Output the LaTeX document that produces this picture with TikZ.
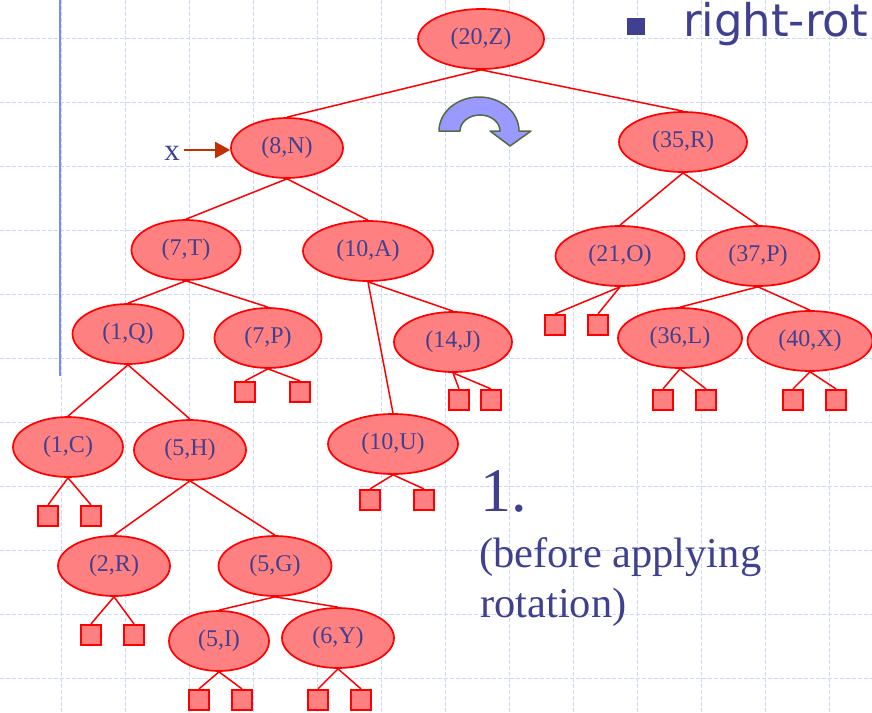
\documentclass[tikz,border=0pt]{standalone}
\usepackage{fontspec}
\setmainfont{Liberation Serif}
\newfontfamily\sansdv{DejaVu Sans}
\usetikzlibrary{shapes.geometric,arrows.meta}
\definecolor{nodefill}{RGB}{255,128,128}
\definecolor{nodeline}{RGB}{255,0,0}
\definecolor{txtblue}{RGB}{64,64,144}
\definecolor{gridblue}{RGB}{205,215,248}
\definecolor{barblue}{RGB}{120,138,255}
\definecolor{xarrow}{RGB}{192,48,0}
\definecolor{rotfill}{RGB}{153,153,255}
\definecolor{rotline}{RGB}{85,107,68}
\begin{document}
\begin{tikzpicture}[x=1pt,y=-1pt,
  avl/.style={ellipse, draw=nodeline, fill=nodefill, line width=1.7pt, minimum height=60pt, inner sep=0pt, text=txtblue, font=\fontsize{24}{27}\selectfont},
  sq/.style={rectangle, draw=nodeline, fill=nodefill, line width=1.7pt, minimum size=20.5pt, inner sep=0pt},
  link/.style={draw=nodeline, line width=1.5pt},
  gridline/.style={draw=gridblue, line width=0.9pt, dash pattern=on 4pt off 2pt},
  bigtext/.style={anchor=base west, inner sep=0pt, text=txtblue}
]
\useasboundingbox (0,0) rectangle (872,712);
\clip (0,0) rectangle (872,712);
% grid
\foreach \gx in {61,125,...,829} \draw[gridline] (\gx,0) -- (\gx,712);
\foreach \gy in {38,102,...,678} \draw[gridline] (0,\gy) -- (872,\gy);
% left bar
\draw[barblue, line width=2.4pt] (60,0) -- (60,376);

% title
\fill[txtblue] (627,18) rectangle (645,35);
\node[bigtext, font=\sansdv\fontsize{45}{45}\selectfont] (title) at (683,36) {right-rot};

% tree nodes
\node[avl, minimum width=126pt] (z20) at (481,39) {(20,Z)};
\node[avl, minimum width=112pt] (n8) at (287,148) {(8,N)};
\node[avl, minimum width=128pt] (r35) at (683,142) {(35,R)};
\node[avl, minimum width=109pt] (t7) at (186,250) {(7,T)};
\node[avl, minimum width=130pt] (a10) at (368,251) {(10,A)};
\node[avl, minimum width=129pt] (o21) at (620,256) {(21,O)};
\node[avl, minimum width=123pt] (p37) at (758,256) {(37,P)};
\node[avl, minimum width=111pt] (q1) at (128,334) {(1,Q)};
\node[avl, minimum width=107pt] (p7) at (268,338) {(7,P)};
\node[avl, minimum width=118pt] (j14) at (453,342) {(14,J)};
\node[avl, minimum width=124pt] (l36) at (680,338) {(36,L)};
\node[avl, minimum width=125pt] (x40) at (810,341) {(40,X)};
\node[avl, minimum width=110pt] (c1) at (68,447) {(1,C)};
\node[avl, minimum width=112pt] (h5) at (190,450) {(5,H)};
\node[avl, minimum width=130pt] (u10) at (393,444) {(10,U)};
\node[avl, minimum width=112pt] (r2) at (114,566) {(2,R)};
\node[avl, minimum width=113pt] (g5) at (275,566) {(5,G)};
\node[avl, minimum width=100pt] (i5) at (219,641) {(5,I)};
\node[avl, minimum width=112pt] (y6) at (338,638) {(6,Y)};

% leaves
\node[sq] (p7a) at (245,392) {};
\node[sq] (p7b) at (300,392) {};
\node[sq] (j14a) at (459,400) {};
\node[sq] (j14b) at (491,400) {};
\node[sq] (o21a) at (555,325) {};
\node[sq] (o21b) at (598,325) {};
\node[sq] (l36a) at (663,400) {};
\node[sq] (l36b) at (706,400) {};
\node[sq] (x40a) at (793,400) {};
\node[sq] (x40b) at (836,400) {};
\node[sq] (c1a) at (48,516) {};
\node[sq] (c1b) at (91,516) {};
\node[sq] (u10a) at (370,500) {};
\node[sq] (u10b) at (424,500) {};
\node[sq] (r2a) at (91,635) {};
\node[sq] (r2b) at (134,635) {};
\node[sq] (i5a) at (199,700) {};
\node[sq] (i5b) at (242,700) {};
\node[sq] (y6a) at (318,700) {};
\node[sq] (y6b) at (361,700) {};

% edges
\foreach \a/\b in {z20/n8, z20/r35, n8/t7, n8/a10, r35/o21, r35/p37,
  t7/q1, t7/p7, a10/j14, a10/u10, p37/l36, p37/x40, q1/c1, q1/h5,
  h5/r2, h5/g5, g5/i5, g5/y6,
  p7/p7a, p7/p7b, j14/j14a, j14/j14b, o21/o21a, o21/o21b, l36/l36a, l36/l36b,
  x40/x40a, x40/x40b, c1/c1a, c1/c1b, u10/u10a, u10/u10b, r2/r2a, r2/r2b,
  i5/i5a, i5/i5b, y6/y6a, y6/y6b}
  \draw[link] (\a.south) -- (\b.north);

% x pointer
\node[inner sep=0pt, text=txtblue, font=\fontsize{31}{31}\selectfont] (xl) at (172,153) {x};
\coordinate (xs) at (184,150);
\draw[xarrow, line width=2pt, -{Triangle[length=15pt,width=16pt]}] (xs) -- (n8.west |- xs);

% rotation arrow
\draw[fill=rotfill, draw=rotline, line width=1.5pt, line join=round]
  (439,131) arc[start angle=180, end angle=360, x radius=40, y radius=34]
  -- (531,131) -- (510,146) -- (490,131) -- (500,131)
  arc[start angle=0, end angle=-180, x radius=20, y radius=16] -- cycle;

% caption
\node[bigtext, font=\fontsize{62}{62}\selectfont] (one) at (480,511) {1.};
\node[bigtext, font=\fontsize{42.5}{42.5}\selectfont] (capa) at (479,567) {(before applying};
\node[bigtext, font=\fontsize{42.5}{42.5}\selectfont] (capb) at (480,617) {rotation)};
\end{tikzpicture}
\end{document}
